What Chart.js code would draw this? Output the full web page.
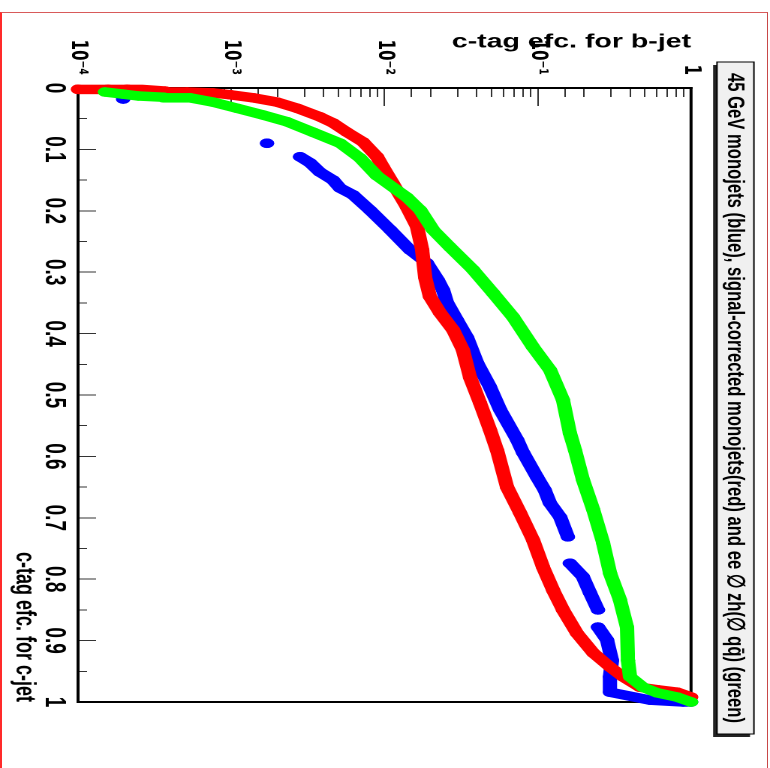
<!DOCTYPE html>
<html>
<head>
<meta charset="utf-8">
<title>c-tag efficiency</title>
<script src="https://cdn.jsdelivr.net/npm/chart.js@4.4.1/dist/chart.umd.min.js"></script>
<style>
    html, body { margin: 0; padding: 0; background: #fff; overflow: hidden; }
    body { width: 770px; height: 768px; position: relative; }
    #pad { position: absolute; left: 0; top: 12px; width: 765px; height: 800px;
           border-left: 2px solid #ff2a2a; border-top: 1px solid #d85a5a; border-right: 1px solid #c84848; }
    /* the ROOT picture is turned a quarter turn and stretched across the b-jet direction */
    #wrap { position: absolute; left: 0; top: 0; width: 768px; height: 513px;
            transform-origin: 0 0; transform: translateX(770px) rotate(90deg) scaleY(1.50097); }
</style>
</head>
<body>
<div id="pad"></div>
<div id="wrap"><canvas id="effChart"></canvas></div>
<script>
// c-tag efficiency for c-jets (x) against c-tag efficiency for b-jets (y)
const blueCEff = [0.018, null, 0.090, null, 0.112, 0.122, 0.137, 0.150, 0.163, 0.174, 0.199, 0.231, 0.264, 0.285, 0.313, 0.329, 0.350, 0.378, 0.406, 0.448, 0.487, 0.524, 0.573, 0.594, 0.634, 0.655, 0.676, 0.699, 0.731, null, 0.774, 0.796, 0.822, 0.850, null, 0.878, 0.899, 0.932, 0.959, 0.984, 0.997, 1.0, 1.0];
const blueBEff = [1.97e-4, null, 1.71e-3, null, 2.81e-3, 3.27e-3, 3.79e-3, 4.61e-3, 5.13e-3, 6.22e-3, 8.04e-3, 1.09e-2, 1.47e-2, 1.89e-2, 2.23e-2, 2.41e-2, 2.56e-2, 2.97e-2, 3.45e-2, 4.02e-2, 4.88e-2, 5.68e-2, 7.33e-2, 8.02e-2, 9.89e-2, 0.111, 0.120, 0.140, 0.157, null, 0.162, 0.197, 0.219, 0.247, null, 0.247, 0.283, 0.305, 0.296, 0.296, 0.540, 0.887, 1.0];

const redCEff = [0.002, 0.002, 0.002, 0.003, 0.005, 0.0065, 0.008, 0.011, 0.016, 0.023, 0.033, 0.047, 0.057, 0.072, 0.088, 0.112, 0.129, 0.155, 0.194, 0.226, 0.264, 0.308, 0.340, 0.366, 0.394, 0.427, 0.471, 0.513, 0.557, 0.590, 0.650, 0.692, 0.736, 0.780, 0.818, 0.850, 0.888, 0.920, 0.943, 0.959, 0.976, 0.980, 0.984, 0.992];
const redBEff = [1.0e-4, 1.57e-4, 2.09e-4, 2.62e-4, 3.70e-4, 5.14e-4, 7.60e-4, 9.82e-4, 1.39e-3, 1.99e-3, 2.69e-3, 3.79e-3, 4.61e-3, 5.69e-3, 7.24e-3, 8.93e-3, 9.77e-3, 1.13e-2, 1.40e-2, 1.63e-2, 1.76e-2, 1.84e-2, 1.98e-2, 2.30e-2, 2.80e-2, 3.25e-2, 3.61e-2, 4.20e-2, 4.88e-2, 5.42e-2, 6.30e-2, 7.66e-2, 9.31e-2, 0.108, 0.126, 0.146, 0.180, 0.230, 0.296, 0.360, 0.465, 0.600, 0.811, 1.0];

const greenCEff = [0.0065, 0.010, 0.013, 0.015, 0.016, 0.023, 0.033, 0.044, 0.055, 0.072, 0.090, 0.114, 0.143, 0.178, 0.199, 0.231, 0.259, 0.296, 0.334, 0.373, 0.422, 0.459, 0.508, 0.562, 0.590, 0.638, 0.687, 0.741, 0.790, 0.834, 0.878, 0.932, 0.959, 0.976, 0.985, 0.992, 1.0];
const greenBEff = [1.50e-4, 1.97e-4, 2.47e-4, 3.59e-4, 5.38e-4, 7.60e-4, 1.09e-3, 1.61e-3, 2.31e-3, 3.41e-3, 5.13e-3, 6.92e-3, 8.93e-3, 1.40e-2, 1.71e-2, 2.07e-2, 2.67e-2, 3.78e-2, 5.11e-2, 6.89e-2, 9.31e-2, 0.120, 0.146, 0.162, 0.175, 0.197, 0.230, 0.267, 0.296, 0.344, 0.382, 0.388, 0.400, 0.486, 0.600, 0.811, 1.0];

// tick labels of both axes
const cTickLabels = ["0", "0.1", "0.2", "0.3", "0.4", "0.5", "0.6", "0.7", "0.8", "0.9", "1"];
const decadeValues = [1e-4, 1e-3, 1e-2, 1e-1, 1];
const decadeLabels = ["10⁻⁴", "10⁻³", "10⁻²", "10⁻¹", "1"];

const plotTitle = "45 GeV monojets (blue), signal-corrected monojets(red) and ee ∅ zh(∅ qq̄) (green)";
const xTitle = "c-tag efc. for c-jet";
const yTitle = "c-tag efc. for b-jet";

document.addEventListener("DOMContentLoaded", function () {
    setChart();
});

function toPoints(cList, bList) {
    return cList.map((c, i) => ({ x: c, y: bList[i] }));
}

function isDecade(value) {
    const lg = Math.log10(value);
    return Math.abs(lg - Math.round(lg)) < 1e-6;
}

function decadeLabel(value) {
    const idx = decadeValues.findIndex(d => Math.abs(Math.log10(d) - Math.log10(value)) < 1e-6);
    return idx >= 0 ? decadeLabels[idx] : "";
}

function makeSeries(points, color) {
    return {
        data: points,
        showLine: true,
        borderColor: color,
        backgroundColor: color,
        pointBackgroundColor: color,
        borderWidth: 9.5,
        borderCapStyle: "round",
        borderJoinStyle: "round",
        pointRadius: 4.8,
        pointBorderWidth: 0,
        spanGaps: false,
        clip: false,
        xAxisID: "x",
        yAxisID: "y",
    };
}

// frame round the plot area, like a ROOT frame
const framePlugin = {
    id: "frame",
    beforeDatasetsDraw(chart) {
        const { ctx, chartArea } = chart;
        ctx.save();
        ctx.strokeStyle = "#000";
        ctx.lineWidth = 2;
        ctx.strokeRect(chartArea.left, chartArea.top, chartArea.right - chartArea.left, chartArea.bottom - chartArea.top);
        ctx.restore();
    },
};

// title pave with its shadow
const titleBoxPlugin = {
    id: "titleBox",
    afterDraw(chart) {
        const ctx = chart.ctx;
        const box = { x: 62, y: 10.7, w: 672, h: 24.6 };

        ctx.save();
        ctx.fillStyle = "#222";
        ctx.fillRect(box.x + 3, box.y + 2.6, box.w, box.h);
        ctx.fillStyle = "#f0f0f0";
        ctx.fillRect(box.x, box.y, box.w, box.h);
        ctx.strokeStyle = "#000";
        ctx.lineWidth = 1;
        ctx.strokeRect(box.x, box.y, box.w, box.h);

        ctx.font = 'bold 16px "Liberation Sans Narrow", "Liberation Sans", Arial, sans-serif';
        ctx.fillStyle = "#000";
        ctx.textAlign = "center";
        ctx.textBaseline = "middle";
        const textWidth = ctx.measureText(plotTitle).width;
        ctx.translate(box.x + box.w / 2, box.y + box.h / 2 + 0.5);
        ctx.scale(650 / textWidth, 1);
        ctx.fillText(plotTitle, 0, 0);
        ctx.restore();
    },
};

function setChart() {
    const ctx = document.getElementById("effChart").getContext("2d");
    const tickFont = { family: '"Liberation Sans", Arial, sans-serif', size: 19, weight: "bold" };

    new Chart(ctx, {
        type: "scatter",
        data: {
            datasets: [
                makeSeries(toPoints(greenCEff, greenBEff), "#00ff00"),
                makeSeries(toPoints(redCEff, redBEff), "#ff0000"),
                makeSeries(toPoints(blueCEff, blueBEff), "#0000ff"),
            ],
        },
        options: {
            responsive: true,
            maintainAspectRatio: false,
            devicePixelRatio: 2,
            animation: false,
            layout: { padding: { left: 0, right: 66, top: 52.6, bottom: 0 } },
            plugins: {
                legend: { display: false },
                tooltip: { enabled: false },
                title: { display: false },
            },
            scales: {
                x: {
                    type: "linear",
                    position: "bottom",
                    weight: 1,
                    min: 0,
                    max: 1,
                    ticks: {
                        stepSize: 0.1,
                        autoSkip: false,
                        maxRotation: 0,
                        padding: 17,
                        color: "#000",
                        font: tickFont,
                        callback: (value, index) => cTickLabels[index],
                    },
                    grid: { drawOnChartArea: false, tickLength: -12, tickColor: "#333", tickWidth: 1 },
                    border: { display: true, color: "#000", width: 2 },
                    title: {
                        display: true,
                        text: xTitle,
                        align: "end",
                        color: "#000",
                        font: { family: '"Liberation Sans", Arial, sans-serif', size: 18, weight: "bold" },
                        padding: { top: 5, bottom: 5 },
                    },
                    afterFit: scale => {
                        scale.height = 52;
                    },
                },
                x2: {
                    type: "linear",
                    position: "bottom",
                    weight: 0,
                    min: 0,
                    max: 1,
                    ticks: { display: false, stepSize: 0.05, autoSkip: false },
                    grid: { drawOnChartArea: false, tickLength: -6, tickColor: "#333", tickWidth: 1 },
                    border: { display: false },
                    afterFit: scale => {
                        scale.height = 0;
                    },
                },
                y: {
                    type: "logarithmic",
                    position: "left",
                    weight: 1,
                    min: 1e-4,
                    max: 1,
                    ticks: {
                        autoSkip: false,
                        padding: 31,
                        color: "#000",
                        font: { family: '"DejaVu Sans", sans-serif', size: 15, weight: "bold" },
                        callback: value => decadeLabel(value),
                    },
                    grid: {
                        drawOnChartArea: false,
                        tickLength: -18,
                        tickWidth: 1,
                        tickColor: c => (c.tick && isDecade(c.tick.value) ? "#333" : "rgba(0,0,0,0)"),
                    },
                    border: { display: true, color: "#000", width: 2 },
                    title: {
                        display: true,
                        text: yTitle,
                        align: "end",
                        color: "#000",
                        font: { family: '"Liberation Sans", Arial, sans-serif', size: 19, weight: "bold" },
                        padding: { top: 31, bottom: 0 },
                    },
                    afterFit: scale => {
                        scale.width = 88;
                    },
                },
                y2: {
                    type: "logarithmic",
                    position: "left",
                    weight: 0,
                    min: 1e-4,
                    max: 1,
                    ticks: { display: false, autoSkip: false },
                    grid: { drawOnChartArea: false, tickLength: -9, tickColor: "#333", tickWidth: 1 },
                    border: { display: false },
                    afterFit: scale => {
                        scale.width = 0;
                    },
                },
            },
        },
        plugins: [framePlugin, titleBoxPlugin],
    });
}
</script>
</body>
</html>
